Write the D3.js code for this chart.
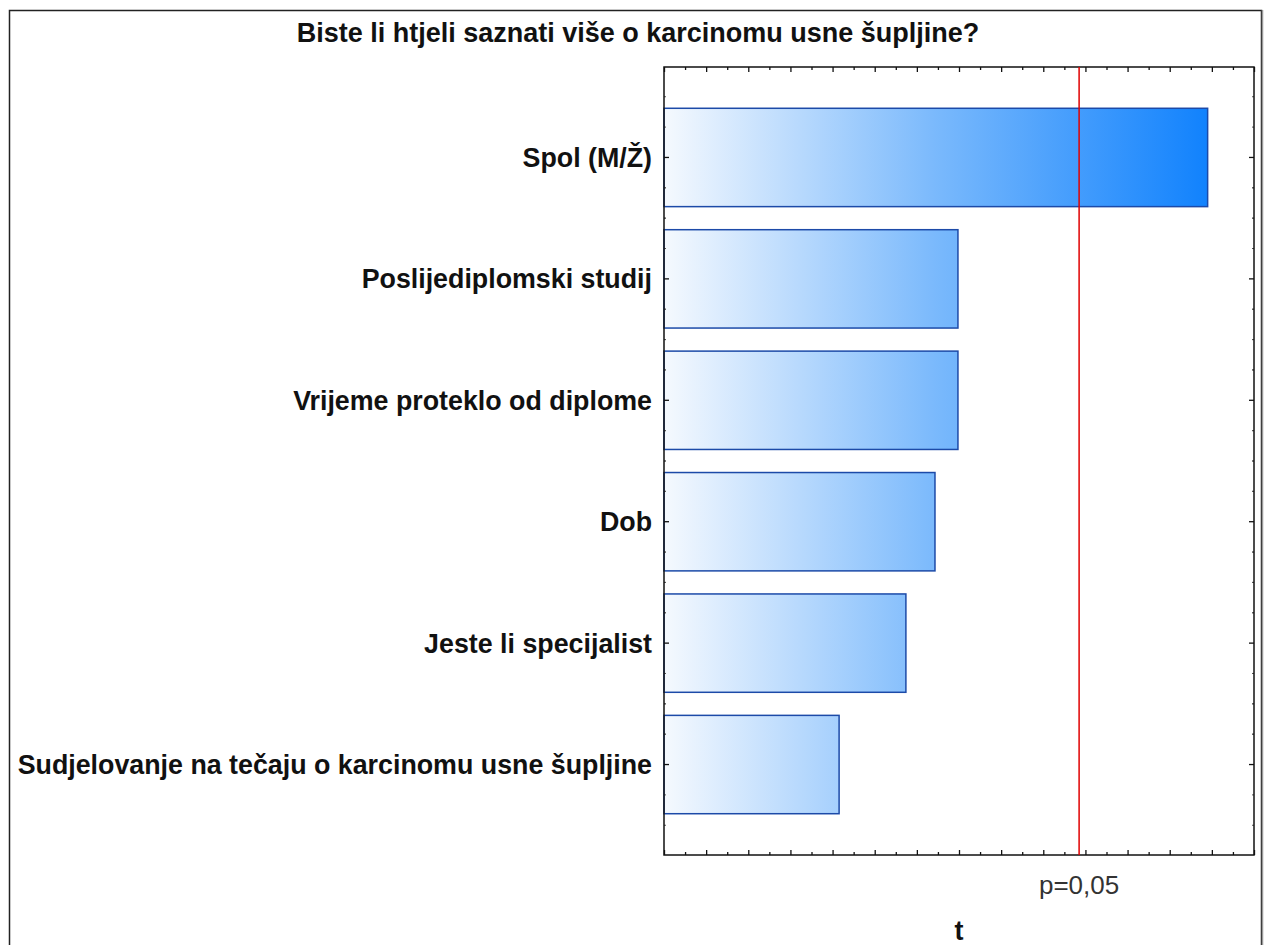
<!DOCTYPE html>
<html>
<head>
<meta charset="utf-8">
<script src="https://cdn.jsdelivr.net/npm/d3@7"></script>
<style>
  body { margin: 0; background: #fff; }
  text { font-family: Arial, "Liberation Sans", sans-serif; }
</style>
</head>
<body>
<div id="chart"></div>
<script>
// t values per predictor (Pareto-style chart)
const categories = [
  "Spol (M/Ž)",
  "Poslijediplomski studij",
  "Vrijeme proteklo od diplome",
  "Dob",
  "Jeste li specijalist",
  "Sudjelovanje na tečaju o karcinomu usne šupljine"
];
const tValues = [2.58, 1.395, 1.395, 1.286, 1.148, 0.831];
const critical = 1.97;
const critLabel = "p=0,05";
const title = "Biste li htjeli saznati više o karcinomu usne šupljine?";
const xLabel = "t";

const W = 1264, H = 945;
const plot = { left: 664, right: 1254, top: 67, bottom: 855 };

const svg = d3.select("#chart").append("svg")
  .attr("width", W)
  .attr("height", H);

// outer frame
svg.append("path")
  .attr("d", `M 9.5 ${H} V 10.5 H 1261.5 V ${H}`)
  .attr("fill", "none")
  .attr("stroke", "#222")
  .attr("stroke-width", 1.5);
svg.append("line")
  .attr("x1", 1262.5).attr("x2", 1262.5)
  .attr("y1", 10).attr("y2", H)
  .attr("stroke", "#999").attr("stroke-width", 1.5);

const x = d3.scaleLinear().domain([0, 2.8]).range([plot.left, plot.right]);
const y = d3.scaleBand().domain(categories)
  .range([plot.top, plot.bottom])
  .paddingInner(0.19)
  .paddingOuter(0.34);

const defs = svg.append("defs");
const grad = defs.append("linearGradient")
  .attr("id", "barGrad")
  .attr("gradientUnits", "userSpaceOnUse")
  .attr("x1", x(0)).attr("x2", x(d3.max(tValues)))
  .attr("y1", 0).attr("y2", 0);
grad.append("stop").attr("offset", "0%").attr("stop-color", "#f5f9fe");
grad.append("stop").attr("offset", "50%").attr("stop-color", "#7ab9fc");
grad.append("stop").attr("offset", "100%").attr("stop-color", "#1182fd");

// bars
svg.append("g").selectAll("rect")
  .data(categories)
  .enter().append("rect")
  .attr("x", x(0))
  .attr("y", d => y(d))
  .attr("width", (d, i) => x(tValues[i]) - x(0))
  .attr("height", y.bandwidth())
  .attr("fill", "url(#barGrad)")
  .attr("stroke", "#1c4aa8")
  .attr("stroke-width", 1.5);

// axes: ticks drawn inward on all four sides
const major = d3.range(0, 2.8001, 0.2);
const minor = d3.range(0.1, 2.8, 0.2);
const tickLen = 5, minorLen = 3;

const axisX = (yPos, dir) => {
  const g = svg.append("g").attr("transform", `translate(0,${yPos})`);
  const ax = d3.axisBottom(x).tickValues(major).tickSize(tickLen * dir).tickFormat("");
  g.call(ax);
  g.append("g").call(d3.axisBottom(x).tickValues(minor).tickSize(minorLen * dir).tickFormat(""));
  g.selectAll(".domain").remove();
  g.selectAll("line").attr("stroke", "#111").attr("stroke-width", 1.3);
};
axisX(plot.top, 1);
axisX(plot.bottom, -1);

const centers = categories.map(c => y(c) + y.bandwidth() / 2);
const step = y.step();
const yMinor = [];
centers.forEach(c => { [-0.75, -0.5, -0.25, 0.25, 0.5, 0.75].forEach(f => yMinor.push(c + f * step)); });

[[plot.left, 1], [plot.right, -1]].forEach(([xPos, dir]) => {
  const g = svg.append("g");
  g.selectAll("line.maj").data(centers).enter().append("line")
    .attr("x1", xPos).attr("x2", xPos + tickLen * dir)
    .attr("y1", d => d).attr("y2", d => d)
    .attr("stroke", "#111").attr("stroke-width", 1.3);
  g.selectAll("line.min").data(yMinor.filter(v => v > plot.top + 2 && v < plot.bottom - 2)).enter().append("line")
    .attr("x1", xPos).attr("x2", xPos + 2 * dir)
    .attr("y1", d => d).attr("y2", d => d)
    .attr("stroke", "#555").attr("stroke-width", 1);
});

// plot frame
svg.append("rect")
  .attr("x", plot.left).attr("y", plot.top)
  .attr("width", plot.right - plot.left)
  .attr("height", plot.bottom - plot.top)
  .attr("fill", "none")
  .attr("stroke", "#111")
  .attr("stroke-width", 1.5);

// critical value line
svg.append("line")
  .attr("x1", x(critical)).attr("x2", x(critical))
  .attr("y1", plot.top).attr("y2", plot.bottom)
  .attr("stroke", "#e00000")
  .attr("stroke-width", 1.5);

svg.append("text")
  .attr("x", x(critical))
  .attr("y", 894)
  .attr("text-anchor", "middle")
  .attr("font-size", 26)
  .attr("fill", "#333")
  .text(critLabel);

// category labels
svg.append("g").selectAll("text")
  .data(categories)
  .enter().append("text")
  .attr("x", 652)
  .attr("y", d => y(d) + y.bandwidth() / 2)
  .attr("dy", "0.35em")
  .attr("text-anchor", "end")
  .attr("font-size", 26.8)
  .attr("font-weight", "bold")
  .attr("fill", "#111")
  .text(d => d);

svg.append("text")
  .attr("x", 638)
  .attr("y", 42)
  .attr("text-anchor", "middle")
  .attr("font-size", 27)
  .attr("font-weight", "bold")
  .attr("fill", "#111")
  .text(title);

svg.append("text")
  .attr("x", 959)
  .attr("y", 940)
  .attr("text-anchor", "middle")
  .attr("font-size", 27)
  .attr("font-weight", "bold")
  .attr("fill", "#111")
  .text(xLabel);
</script>
</body>
</html>
